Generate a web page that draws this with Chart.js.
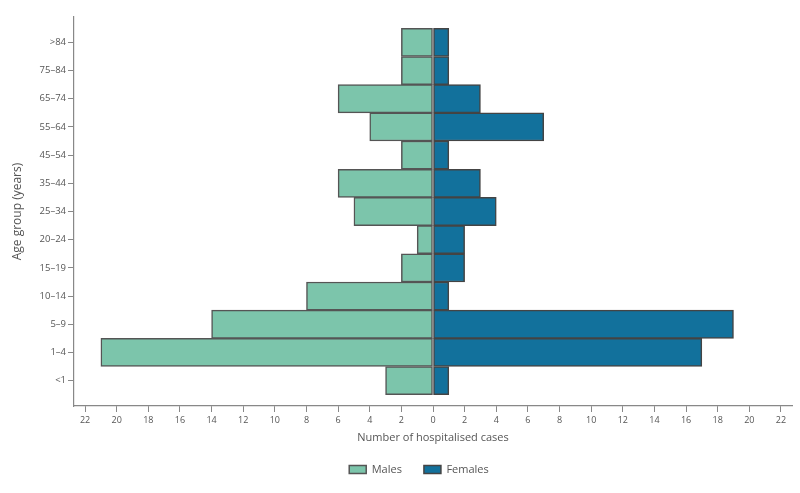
<!DOCTYPE html>
<html>
<head>
<meta charset="utf-8">
<script src="https://cdn.jsdelivr.net/npm/chart.js@4.4.1/dist/chart.umd.min.js"></script>
<style>
  html, body { margin: 0; padding: 0; background: #fff; }
  #wrap { width: 800px; height: 493px; }
</style>
</head>
<body>
<div id="wrap"><canvas id="pyramid"></canvas></div>
<script>
  /* Data, bottom row first */
  var ageGroups = ['<1', '1–4', '5–9', '10–14', '15–19', '20–24', '25–34', '35–44', '45–54', '55–64', '65–74', '75–84', '>84'];
  var males     = [3, 21, 14, 8, 2, 1, 5, 6, 2, 4, 6, 2, 2];
  var females   = [1, 17, 19, 1, 2, 2, 4, 3, 1, 7, 3, 1, 1];
  var xTicks    = [-22, -20, -18, -16, -14, -12, -10, -8, -6, -4, -2, 0, 2, 4, 6, 8, 10, 12, 14, 16, 18, 20, 22];

  var TEXT = '#555';
  var AXIS = '#888';
  var FONT = "'Open Sans', sans-serif";

  function points(values, sign) {
    return values.map(function (v, i) { return { x: sign * v, y: i }; });
  }

  // legend sits a little left of the plot centre in the original
  var legendShift = {
    id: 'legendShift',
    afterLayout: function (chart) {
      if (!chart.legend) return;
      chart.legend.left -= 14;
      chart.legend.right -= 14;
      chart.legend.top -= 2;
      chart.legend.bottom -= 2;
    }
  };

  new Chart(document.getElementById('pyramid'), {
    type: 'bar',
    data: {
      datasets: [
        {
          label: 'Males',
          data: points(males, -1),
          backgroundColor: '#7cc5ab',
          borderColor: '#555',
          borderWidth: 1.5,
          borderSkipped: false,
          barPercentage: 1,
          categoryPercentage: 1
        },
        {
          label: 'Females',
          data: points(females, 1),
          backgroundColor: '#12719c',
          borderColor: '#444',
          borderWidth: 1.5,
          borderSkipped: false,
          barPercentage: 1,
          categoryPercentage: 1
        }
      ]
    },
    plugins: [legendShift],
    options: {
      indexAxis: 'y',
      responsive: true,
      maintainAspectRatio: false,
      animation: false,
      layout: { padding: { top: 17, right: 8, bottom: 6, left: 10 } },
      plugins: {
        tooltip: { enabled: false },
        legend: {
          position: 'bottom',
          fullSize: false,
          labels: {
            boxWidth: 17,
            boxHeight: 8,
            padding: 22,
            color: TEXT,
            font: { family: FONT, size: 11 }
          }
        }
      },
      scales: {
        x: {
          type: 'linear',
          stacked: true,
          min: -22.7,
          max: 22.7,
          afterBuildTicks: function (scale) {
            scale.ticks = xTicks.map(function (v) { return { value: v }; });
          },
          afterFit: function (scale) { scale.height = 38; },
          ticks: {
            color: TEXT,
            padding: 3,
            maxRotation: 0,
            autoSkip: false,
            font: { family: FONT, size: 9 },
            callback: function (v) { return Math.abs(v); }
          },
          grid: { drawOnChartArea: false, drawTicks: true, tickLength: 6, color: AXIS, lineWidth: 1 },
          border: { display: true, color: AXIS, width: 1.2 },
          title: {
            display: true,
            text: 'Number of hospitalised cases',
            color: TEXT,
            font: { family: FONT, size: 11 },
            padding: { top: 6, bottom: 0 }
          }
        },
        y: {
          type: 'linear',
          stacked: true,
          offset: false,
          min: -0.9,
          max: 12.9,
          afterBuildTicks: function (scale) {
            scale.ticks = ageGroups.map(function (g, i) { return { value: i }; });
          },
          afterFit: function (scale) { scale.width = 64; },
          ticks: {
            color: TEXT,
            padding: 2,
            autoSkip: false,
            font: { family: FONT, size: 9.5 },
            callback: function (v) { return ageGroups[v]; }
          },
          grid: { offset: false, drawOnChartArea: false, drawTicks: true, tickLength: 6, color: AXIS, lineWidth: 1 },
          border: { display: true, color: AXIS, width: 1.2 },
          title: {
            display: true,
            text: 'Age group (years)',
            color: TEXT,
            font: { family: FONT, size: 12 },
            padding: { top: 0, bottom: 6 }
          }
        }
      }
    }
  });
</script>
</body>
</html>
